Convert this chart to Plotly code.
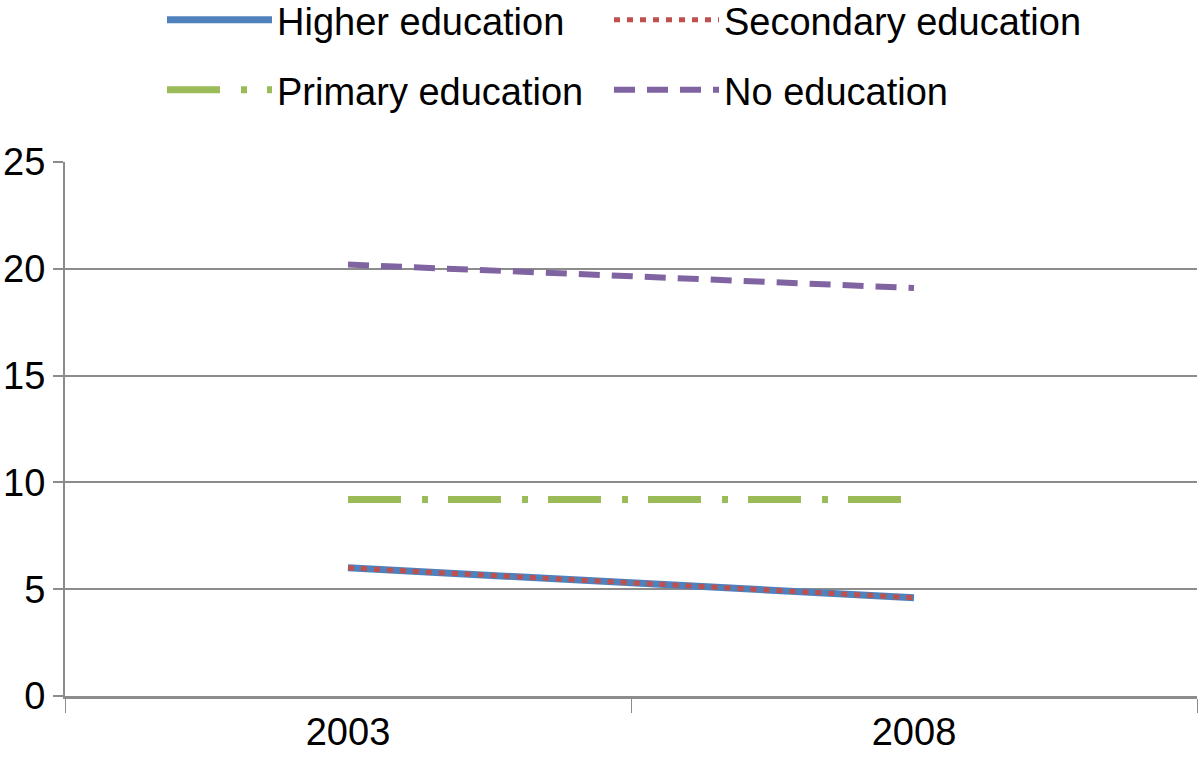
import plotly.graph_objects as go

years = ["2003", "2008"]
higher = [6.0, 4.6]
secondary = [6.0, 4.6]
primary = [9.2, 9.2]
no_edu = [20.2, 19.1]

FONT = "Liberation Sans, Arial, Helvetica, sans-serif"
GRID = "#8c8c8c"
W, H = 1200, 763

fig = go.Figure()
fig.add_trace(go.Scatter(x=years, y=higher, name="Higher education", mode="lines",
                         line=dict(color="#4F81BD", width=7), legend="legend"))
fig.add_trace(go.Scatter(x=years, y=secondary, name="Secondary education", mode="lines",
                         line=dict(color="#C0504D", width=5, dash="6px,7px"), legend="legend2"))
fig.add_trace(go.Scatter(x=years, y=primary, name="Primary education", mode="lines",
                         line=dict(color="#9BBB59", width=7, dash="53px,21px,6px,20px"), legend="legend3"))
fig.add_trace(go.Scatter(x=years, y=no_edu, name="No education", mode="lines",
                         line=dict(color="#8064A2", width=6, dash="21px,12px"), legend="legend4"))

legend_common = dict(orientation="h", xanchor="left", yanchor="middle",
                     xref="container", yref="container",
                     font=dict(family=FONT, size=38, color="#000"),
                     itemwidth=105,
                     bgcolor="rgba(0,0,0,0)", itemclick=False)

x1 = 162 / W
x2 = 609 / W
y1 = 1 - 20 / H
y2 = 1 - 90 / H

fig.update_layout(
    width=W, height=H,
    margin=dict(l=65, r=3, t=162, b=67, autoexpand=False),
    plot_bgcolor="white", paper_bgcolor="white",
    font=dict(family=FONT, size=38, color="#000"),
    showlegend=True,
    legend=dict(x=x1, y=y1, **legend_common),
    legend2=dict(x=x2, y=y1, **legend_common),
    legend3=dict(x=x1, y=y2, **legend_common),
    legend4=dict(x=x2, y=y2, **legend_common),
    xaxis=dict(type="category", range=[-0.5, 1.5], tickson="boundaries",
               ticks="outside", ticklen=14, tickwidth=1, tickcolor=GRID,
               showgrid=False, showline=True, linecolor=GRID, linewidth=3,
               tickfont=dict(size=38), fixedrange=True, automargin=False),
    yaxis=dict(range=[0, 25], tickvals=[0, 5, 10, 15, 20, 25], ticks="outside",
               ticklen=10, tickwidth=2, tickcolor=GRID,
               showgrid=True, gridcolor=GRID, gridwidth=2,
               showline=True, linecolor=GRID, linewidth=2,
               zeroline=False, tickfont=dict(size=38), fixedrange=True,
               automargin=False),
)

fig.write_html("out.html", config={"displayModeBar": False},
               post_script="document.body.style.margin='0px';document.body.style.overflow='hidden';")
